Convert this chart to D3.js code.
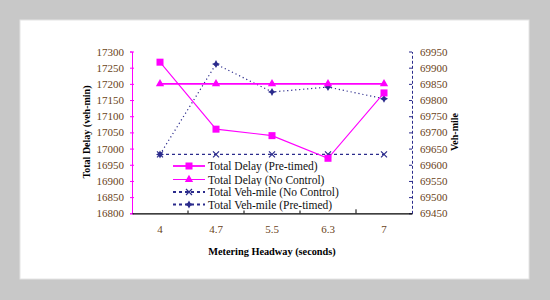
<!DOCTYPE html>
<html><head><meta charset="utf-8">
<script src="https://cdn.jsdelivr.net/npm/d3@7"></script>
<style>
html,body{margin:0;padding:0;background:#c8c8c8;}
svg{display:block;}
svg text{font-family:"Liberation Serif","Times New Roman",serif !important;}
</style></head>
<body>
<svg id="c" width="550" height="300"></svg>
<script>
const categories = ["4","4.7","5.5","6.3","7"];
const delayPretimed = [17267, 17060, 17040, 16970, 17172];
const delayNoControl = [17200, 17200, 17200, 17200, 17200];
const vehMileNoControl = [69632, 69632, 69632, 69632, 69632];
const vehMilePretimed = [69632, 69911, 69825, 69840, 69804];
const leftTicks = [16800,16850,16900,16950,17000,17050,17100,17150,17200,17250,17300];
const rightTicks = [69450,69500,69550,69600,69650,69700,69750,69800,69850,69900,69950];
const legendLabels = ["Total Delay (Pre-timed)","Total Delay (No Control)","Total Veh-mile (No Control)","Total Veh-mile (Pre-timed)"];

const svg = d3.select("#c");
const MAG = "#ff00ff", NAVY = "#2b2b8c", TICKC = "#6a4320";

svg.append("rect").attr("x",20).attr("y",20).attr("width",509).attr("height",259)
  .attr("fill","#fff").attr("stroke","#e4e4e4").attr("stroke-width",1);

const L = 132, R = 412, T = 51.5, B = 213.3;
const x = d3.scaleBand().domain(categories).range([L,R]);
const yL = d3.scaleLinear().domain([16800,17300]).range([B,T]);
const yR = d3.scaleLinear().domain([69450,69950]).range([B,T]);
const cx = d => x(d) + x.bandwidth()/2;

// left axis
const la = svg.append("g").attr("transform",`translate(${L},0)`)
  .call(d3.axisLeft(yL).tickValues(leftTicks).tickSize(2).tickPadding(6).tickFormat(d3.format("d")));
la.attr("font-family","Liberation Serif");
la.select(".domain").attr("stroke",MAG);
la.selectAll(".tick line").attr("stroke",MAG).attr("x1",2).attr("x2",-2);
la.selectAll(".tick text").attr("fill",TICKC).style("font-size","11px");

// right axis
const ra = svg.append("g").attr("transform",`translate(${R},0)`)
  .call(d3.axisRight(yR).tickValues(rightTicks).tickSize(0).tickPadding(8).tickFormat(d3.format("d")));
ra.attr("font-family","Liberation Serif");
ra.select(".domain").attr("stroke",NAVY).attr("stroke-dasharray","3,2");
ra.selectAll(".tick line").attr("stroke",NAVY).attr("x1",-3).attr("x2",0);
ra.selectAll(".tick text").attr("fill",TICKC).style("font-size","11px");

// bottom axis
const ba = svg.append("g").attr("transform",`translate(0,${B})`)
  .call(d3.axisBottom(x).tickSize(0).tickPadding(12));
ba.attr("font-family","Liberation Serif");
ba.select(".domain").attr("stroke","#000").attr("stroke-width",1.2);
ba.selectAll(".tick text").attr("fill",TICKC).style("font-size","11px");
categories.slice(1).forEach(c=>{
  svg.append("line").attr("x1",x(c)).attr("x2",x(c)).attr("y1",B).attr("y2",B-4).attr("stroke","#000");
});

// titles
svg.append("text").attr("x",272).attr("y",255).attr("text-anchor","middle")
  .style("font-size","10.3px").style("font-weight","bold").text("Metering Headway (seconds)");
svg.append("text").attr("transform","translate(90,132) rotate(-90)").attr("text-anchor","middle")
  .style("font-size","10px").style("font-weight","bold").text("Total Delay (veh-min)");
svg.append("text").attr("transform","translate(458,132) rotate(-90)").attr("text-anchor","middle")
  .style("font-size","10px").style("font-weight","bold").text("Veh-mile");

function star(s){const a=s, b=s*0.35;return `M0,${-a}L${b},${-b}L${a},0L${b},${b}L0,${a}L${-b},${b}L${-a},0L${-b},${-b}Z`;}
function drawMarker(g, type, px, py){
  if(type==="square") g.append("rect").attr("x",px-3.5).attr("y",py-3.5).attr("width",7).attr("height",7).attr("fill",MAG);
  else if(type==="tri") g.append("path").attr("d",d3.symbol(d3.symbolTriangle,30)()).attr("transform",`translate(${px},${py})`).attr("fill",MAG);
  else if(type==="x") g.append("path").attr("d","M-3,-3L3,3M3,-3L-3,3").attr("transform",`translate(${px},${py})`).attr("stroke",NAVY).attr("stroke-width",1.2).attr("fill","none");
  else if(type==="star") g.append("path").attr("d",star(4)).attr("transform",`translate(${px},${py})`).attr("fill",NAVY);
}

const series = [
  {vals:vehMileNoControl, y:yR, color:NAVY, w:1.3, dash:"3,3", m:"x"},
  {vals:vehMilePretimed, y:yR, color:NAVY, w:1.2, dash:"1.2,2.8", m:"star"},
  {vals:delayNoControl, y:yL, color:MAG, w:1.6, dash:null, m:"tri"},
  {vals:delayPretimed, y:yL, color:MAG, w:1.1, dash:null, m:"square"}
];
series.forEach(s=>{
  const line = d3.line().x((d,i)=>cx(categories[i])).y(d=>s.y(d));
  svg.append("path").attr("d",line(s.vals)).attr("fill","none").attr("stroke",s.color)
    .attr("stroke-width",s.w).attr("stroke-dasharray",s.dash);
  const g = svg.append("g");
  s.vals.forEach((v,i)=>drawMarker(g,s.m,cx(categories[i]),s.y(v)));
});

// legend
const legRows = [
  {m:"square", color:MAG, w:1.8, dash:null},
  {m:"tri", color:MAG, w:1, dash:null},
  {m:"x", color:NAVY, w:1.8, dash:"3,3"},
  {m:"star", color:NAVY, w:1.8, dash:"3,3"}
];
const legY = [166, 179.5, 192, 204.5];
const lg = svg.append("g");
legRows.forEach((r,i)=>{
  const yy = legY[i];
  lg.append("rect").attr("x",172).attr("y",yy-6).attr("width",140).attr("height",12).attr("fill","#fff");
  lg.append("line").attr("x1",173).attr("x2",205).attr("y1",yy).attr("y2",yy)
    .attr("stroke",r.color).attr("stroke-width",r.w).attr("stroke-dasharray",r.dash);
  drawMarker(lg,r.m,189,yy);
  lg.append("text").attr("x",208).attr("y",yy+4).style("font-size","11.5px").attr("fill","#111").text(legendLabels[i]);
});
</script>
</body></html>
